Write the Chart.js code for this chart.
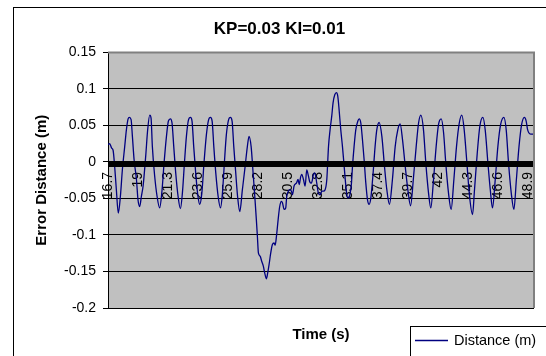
<!DOCTYPE html>
<html>
<head>
<meta charset="utf-8">
<script src="https://cdn.jsdelivr.net/npm/chart.js@4.4.1/dist/chart.umd.min.js"></script>
<style>
  html, body { margin: 0; padding: 0; background: #fff; }
  #wrap { width: 546px; height: 356px; }
</style>
</head>
<body>
<div id="wrap"><canvas id="pidChart" width="546" height="356"></canvas></div>
<script>
// time stamps (s) and error distance (m) of the KP=0.03 KI=0.01 run
const times = [
  16.70, 16.83, 16.98, 17.09, 17.21, 17.34, 17.49, 17.65, 17.80, 17.98,
  18.11, 18.24, 18.34, 18.47, 18.57, 18.70, 18.88, 19.00, 19.13, 19.26,
  19.39, 19.59, 19.74, 19.90, 20.00, 20.10, 20.28, 20.46, 20.66, 20.82,
  21.00, 21.18, 21.33, 21.48, 21.61, 21.74, 21.89, 22.07, 22.25, 22.40,
  22.56, 22.71, 22.86, 23.02, 23.14, 23.27, 23.42, 23.58, 23.73, 23.89,
  24.06, 24.24, 24.40, 24.55, 24.68, 24.81, 24.96, 25.14, 25.32, 25.47,
  25.62, 25.77, 25.93, 26.08, 26.21, 26.34, 26.49, 26.63, 26.80, 27.00,
  27.21, 27.38, 27.51, 27.67, 27.82, 27.95, 28.07, 28.15, 28.23, 28.36,
  28.48, 28.61, 28.71, 28.84, 28.94, 29.05, 29.17, 29.30, 29.43, 29.51,
  29.61, 29.74, 29.86, 29.99, 30.07, 30.20, 30.32, 30.40, 30.53, 30.63,
  30.76, 30.84, 30.96, 31.14, 31.27, 31.35, 31.47, 31.55, 31.68, 31.81,
  31.93, 32.06, 32.16, 32.29, 32.45, 32.55, 32.70, 32.83, 32.96, 33.09,
  33.21, 33.34, 33.47, 33.60, 33.72, 33.85, 33.95, 34.08, 34.21, 34.31,
  34.41, 34.54, 34.67, 34.80, 34.93, 35.05, 35.18, 35.26, 35.36, 35.44,
  35.56, 35.69, 35.85, 35.95, 36.08, 36.20, 36.33, 36.46, 36.59, 36.71,
  36.84, 37.02, 37.17, 37.30, 37.48, 37.69, 37.89, 38.07, 38.27, 38.50,
  38.71, 38.91, 39.09, 39.27, 39.48, 39.68, 39.89, 40.12, 40.32, 40.50,
  40.68, 40.88, 41.06, 41.27, 41.44, 41.65, 41.85, 42.03, 42.24, 42.42,
  42.59, 42.80, 43.00, 43.21, 43.41, 43.62, 43.82, 44.00, 44.21, 44.41,
  44.64, 44.79, 45.00, 45.20, 45.43, 45.61, 45.82, 46.00, 46.17, 46.38,
  46.58, 46.79, 47.04, 47.22, 47.40, 47.61, 47.81, 48.00, 48.20, 48.40,
  48.61, 48.75, 48.85, 48.95, 49.10, 49.35
];
const distance = [
  0.024, 0.025, 0.019, 0.016, -0.006, -0.038, -0.070, -0.047, -0.011, 0.021,
  0.044, 0.059, 0.061, 0.058, 0.035, 0.003, -0.024, -0.052, -0.061, -0.047,
  -0.033, 0.008, 0.044, 0.064, 0.060, 0.021, -0.020, -0.047, -0.063, -0.043,
  -0.001, 0.035, 0.056, 0.059, 0.053, 0.021, -0.015, -0.047, -0.064, -0.043,
  -0.001, 0.035, 0.057, 0.061, 0.056, 0.021, -0.015, -0.045, -0.058, -0.043,
  -0.001, 0.037, 0.057, 0.061, 0.056, 0.021, -0.015, -0.047, -0.063, -0.043,
  -0.001, 0.037, 0.057, 0.061, 0.056, 0.021, -0.015, -0.047, -0.068, -0.038,
  -0.006, 0.021, 0.035, 0.021, -0.015, -0.047, -0.079, -0.102, -0.125, -0.129,
  -0.136, -0.143, -0.152, -0.160, -0.152, -0.140, -0.125, -0.113, -0.111, -0.114,
  -0.102, -0.079, -0.061, -0.054, -0.056, -0.065, -0.063, -0.047, -0.040, -0.038,
  -0.040, -0.045, -0.033, -0.029, -0.024, -0.031, -0.020, -0.017, -0.024, -0.033,
  -0.011, -0.019, -0.027, -0.029, -0.017, -0.015, -0.029, -0.043, -0.045, -0.040,
  -0.040, -0.038, -0.024, 0.021, 0.044, 0.063, 0.081, 0.092, 0.095, 0.090,
  0.072, 0.044, 0.021, -0.006, -0.033, -0.049, -0.048, -0.043, -0.029, -0.006,
  0.021, 0.044, 0.056, 0.059, 0.053, 0.031, 0.003, -0.029, -0.052, -0.058,
  -0.050, -0.015, 0.021, 0.044, 0.054, 0.035, -0.006, -0.038, -0.058, -0.024,
  0.021, 0.044, 0.052, 0.031, -0.006, -0.038, -0.060, -0.020, 0.021, 0.053,
  0.064, 0.044, -0.002, -0.043, -0.063, -0.024, 0.021, 0.051, 0.059, 0.040,
  -0.002, -0.043, -0.065, -0.024, 0.021, 0.053, 0.064, 0.044, -0.002, -0.047,
  -0.072, -0.038, 0.012, 0.049, 0.061, 0.044, -0.002, -0.038, -0.063, -0.024,
  0.021, 0.051, 0.061, 0.044, -0.002, -0.043, -0.065, -0.024, 0.021, 0.051,
  0.061, 0.056, 0.045, 0.040, 0.038, 0.038
];
const timeTickLabels = ['16.7', '19', '21.3', '23.6', '25.9', '28.2', '30.5', '32.8',
  '35.1', '37.4', '39.7', '42', '44.3', '46.6', '48.9'];
const distTickLabels = ['-0.2', '-0.15', '-0.1', '-0.05', '0', '0.05', '0.1', '0.15'];

const timeTicks = timeTickLabels.map(Number);
const distTicks = distTickLabels.map(Number);

Chart.defaults.font.family = '"Liberation Sans", Arial, sans-serif';
Chart.defaults.color = '#000';

// gray plot area, heavy zero axis, outer frame and boxed legend
const excelLook = {
  id: 'excelLook',
  beforeDraw(chart) {
    const { ctx, chartArea: a } = chart;
    ctx.save();
    ctx.fillStyle = '#fff';
    ctx.fillRect(0, 0, chart.width, chart.height);
    ctx.fillStyle = '#c0c0c0';
    ctx.fillRect(a.left, a.top, a.right - a.left, a.bottom - a.top);
    ctx.restore();
  },
  afterDatasetsDraw(chart) {
    const { ctx, chartArea: a, scales } = chart;
    const y0 = Math.round(scales.y.getPixelForValue(0));
    ctx.save();
    ctx.fillStyle = '#000';
    ctx.fillRect(a.left, y0 - 1, a.right - a.left, 6);
    ctx.restore();
  },
  afterDraw(chart) {
    const { ctx, chartArea: a } = chart;
    const ds = chart.data.datasets[0];
    ctx.save();
    // plot area frame (top and right edges)
    ctx.strokeStyle = '#808080';
    ctx.lineWidth = 2;
    ctx.beginPath();
    ctx.moveTo(a.left, a.top);
    ctx.lineTo(a.right, a.top);
    ctx.lineTo(a.right, a.bottom);
    ctx.stroke();
    // chart frame
    ctx.strokeStyle = '#000';
    ctx.lineWidth = 1;
    ctx.strokeRect(13.5, 7.5, 600, 400);
    // legend
    const lx = 410.5, ly = 326.5;
    ctx.fillStyle = '#fff';
    ctx.fillRect(lx, ly, 200, 60);
    ctx.strokeRect(lx, ly, 200, 60);
    ctx.strokeStyle = ds.borderColor;
    ctx.lineWidth = ds.borderWidth;
    ctx.beginPath();
    ctx.moveTo(415, 340.5);
    ctx.lineTo(448, 340.5);
    ctx.stroke();
    ctx.fillStyle = '#000';
    ctx.font = '14.5px "Liberation Sans", Arial, sans-serif';
    ctx.textBaseline = 'middle';
    ctx.fillText(ds.label, 454, 341);
    ctx.restore();
  }
};

new Chart(document.getElementById('pidChart'), {
  type: 'line',
  data: {
    datasets: [{
      label: 'Distance (m)',
      data: times.map((t, i) => ({ x: t, y: distance[i] })),
      borderColor: '#000080',
      borderWidth: 1.3,
      pointRadius: 0,
      cubicInterpolationMode: 'monotone',
      xAxisID: 'x',
      yAxisID: 'y'
    }]
  },
  options: {
    responsive: false,
    animation: false,
    devicePixelRatio: 1,
    layout: { padding: { left: 13, top: 7, right: 0, bottom: 0 } },
    plugins: {
      legend: { display: false },
      tooltip: { enabled: false },
      title: {
        display: true,
        text: 'KP=0.03 KI=0.01',
        color: '#000',
        font: { size: 17, weight: 'bold' },
        padding: { top: 12, bottom: 13 }
      }
    },
    scales: {
      x: {
        type: 'linear',
        position: { y: 0 },
        min: 16.7,
        max: 49.35,
        afterBuildTicks: s => { s.ticks = timeTicks.map(v => ({ value: v })); },
        afterFit: s => {
          s.height = 0;
          s.paddingLeft = 0;
          s.paddingRight = 0;
        },
        grid: { display: false, drawTicks: false },
        border: { display: false },
        ticks: {
          autoSkip: false,
          minRotation: 90,
          maxRotation: 90,
          padding: 10,
          font: { size: 14 },
          callback: (v, i) => timeTickLabels[i]
        }
      },
      x2: {
        type: 'linear',
        position: 'bottom',
        min: 16.7,
        max: 49.35,
        afterFit: s => {
          s.height = 48;
          s.paddingLeft = 0;
          s.paddingRight = 0;
        },
        grid: { display: false, drawTicks: false },
        border: { display: false },
        ticks: { display: false },
        title: {
          display: true,
          text: 'Time (s)',
          font: { size: 15, weight: 'bold' },
          padding: { top: 0, bottom: 12 }
        }
      },
      y: {
        type: 'linear',
        position: 'left',
        min: -0.2,
        max: 0.15,
        afterBuildTicks: s => { s.ticks = distTicks.map(v => ({ value: v })); },
        afterFit: s => { s.width = 95; },
        grid: { color: '#000', lineWidth: 1, tickLength: 5, tickColor: '#000' },
        border: { color: '#000', width: 1 },
        ticks: {
          padding: 7,
          font: { size: 14 },
          callback: (v, i) => distTickLabels[i]
        },
        title: {
          display: true,
          text: 'Error Distance (m)',
          font: { size: 15, weight: 'bold' },
          padding: { top: 20 }
        }
      },
      y2: {
        type: 'linear',
        position: 'right',
        afterFit: s => { s.width = 12; },
        grid: { display: false, drawTicks: false },
        border: { display: false },
        ticks: { display: false }
      }
    }
  },
  plugins: [excelLook]
});
</script>
</body>
</html>
